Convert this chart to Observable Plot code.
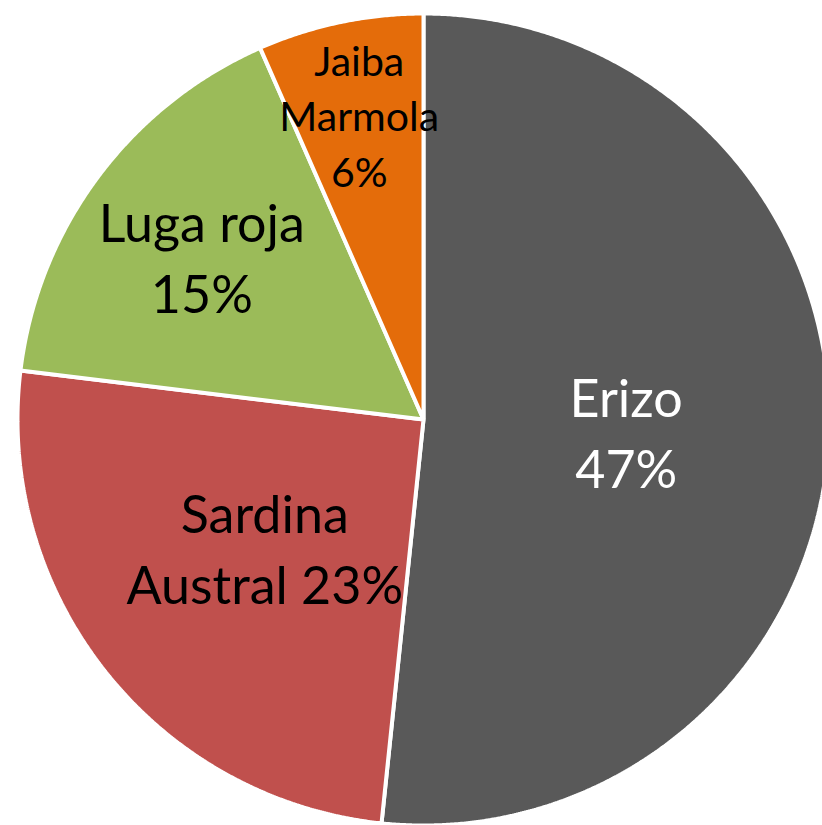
<!DOCTYPE html>
<html>
<head>
<meta charset="utf-8">
<script src="https://cdn.jsdelivr.net/npm/d3@7"></script>
<script src="https://cdn.jsdelivr.net/npm/@observablehq/plot@0.6"></script>
<style>
  html, body { margin: 0; padding: 0; background: #fff; overflow: hidden; }
  #chart svg { overflow: visible; }
</style>
</head>
<body>
<div id="chart"></div>
<script>
// Data
const categories = ["Erizo", "Sardina Austral", "Luga roja", "Jaiba Marmola"];
const values = [47, 23, 15, 6];
const labelTexts = ["Erizo\n47%", "Sardina\nAustral 23%", "Luga roja\n15%", "Jaiba\nMarmola\n6%"];
const colors = ["#595959", "#C0504D", "#9BBB59", "#E46C0A"];
const textColors = ["#ffffff", "#000000", "#000000", "#000000"];

const total = d3.sum(values);
const pie = d3.pie().sort(null).value(d => d.value);
const arcs = pie(categories.map((name, i) => ({name, value: values[i], label: labelTexts[i], tc: textColors[i]})));

// Polygon outline of each slice (angles clockwise from 12 o'clock)
const poly = [];
for (const a of arcs) {
  const name = a.data.name;
  poly.push({name, x: 0, y: 0});
  const n = Math.max(2, Math.ceil((a.endAngle - a.startAngle) / 0.005));
  for (let k = 0; k <= n; k++) {
    const t = a.startAngle + (a.endAngle - a.startAngle) * k / n;
    poly.push({name, x: Math.sin(t), y: Math.cos(t)});
  }
}

// Label anchor points
const labels = arcs.map(a => {
  const share = a.data.value / total;
  const r = share > 0.2 ? 0.5 : share > 0.1 ? 0.68 : 0.77;
  const m = (a.startAngle + a.endAngle) / 2;
  return {name: a.data.name, label: a.data.label, tc: a.data.tc, small: share < 0.1, x: r * Math.sin(m), y: r * Math.cos(m)};
});

const chart = Plot.plot({
  width: 822,
  height: 825,
  margin: 0,
  x: {domain: [-1, 1], range: [17, 829], axis: null},
  y: {domain: [-1, 1], range: [825, 13], axis: null},
  color: {domain: categories, range: colors},
  style: {fontFamily: "Lato, 'Open Sans', sans-serif", background: "#fff"},
  marks: [
    Plot.line(poly, {x: "x", y: "y", z: "name", fill: "name", stroke: "#fff", strokeWidth: 4, curve: "linear-closed", strokeLinejoin: "miter"}),
    Plot.text(labels.filter(d => !d.small), {x: "x", y: "y", text: "label", fill: "tc", fontSize: 52, lineHeight: 1.37}),
    Plot.text(labels.filter(d => d.small), {x: "x", y: "y", text: "label", fill: "tc", fontSize: 41, lineHeight: 1.36})
  ]
});
document.getElementById("chart").appendChild(chart);
</script>
</body>
</html>
